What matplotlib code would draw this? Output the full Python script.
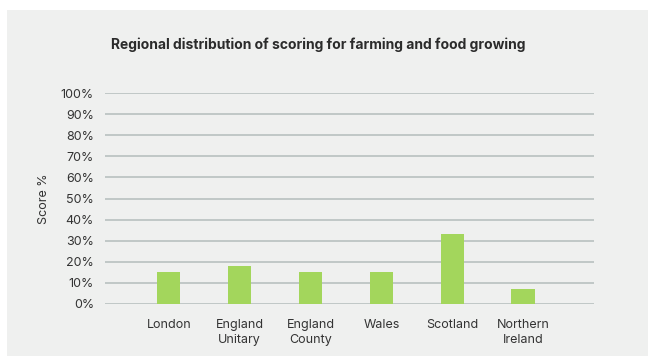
import matplotlib.pyplot as plt
from matplotlib.patches import Rectangle

regions = ['London', 'England\nUnitary', 'England\nCounty', 'Wales', 'Scotland', 'Northern\nIreland']
scores = [15, 18, 15, 15, 33, 7]
yticks = list(range(0, 101, 10))

plt.rcParams['font.family'] = ['Inter', 'DejaVu Sans']

fig = plt.figure(figsize=(6.48, 3.56), dpi=100)
fig.patch.set_facecolor('white')
fig.patches.append(Rectangle((7/648, 0), 1, 1 - 10/356, transform=fig.transFigure,
                             facecolor='#eff0ef', edgecolor='none', zorder=-1))

ax = fig.add_axes([105/648, 1 - 304/356, 489/648, 211/356])
ax.set_facecolor('none')
x = range(len(regions))
ax.bar(x, scores, width=0.33, color='#a3d65c', zorder=3)

ax.set_ylim(0, 100)
ax.set_xlim(-0.9, 6.0)
ax.set_yticks(yticks)
ax.set_yticklabels([f'{t}%' for t in yticks], fontsize=9, color='#333333')
ax.set_xticks(list(x))
ax.set_xticklabels(regions, fontsize=9, color='#333333', linespacing=1.3)
ax.tick_params(axis='x', length=0, pad=11)
ax.tick_params(axis='y', length=0, pad=8)
ax.grid(axis='y', color='#b8c0bf', linewidth=1.2, zorder=0)
for s in ax.spines.values():
    s.set_visible(False)

ax.set_ylabel('Score %', fontsize=9, color='#333333', labelpad=8)
fig.text(318/648, 1 - 45/356, 'Regional distribution of scoring for farming and food growing',
         ha='center', va='center', fontsize=10, fontweight='bold', color='#2b2b2b')

fig.savefig('out.png', dpi=100)
